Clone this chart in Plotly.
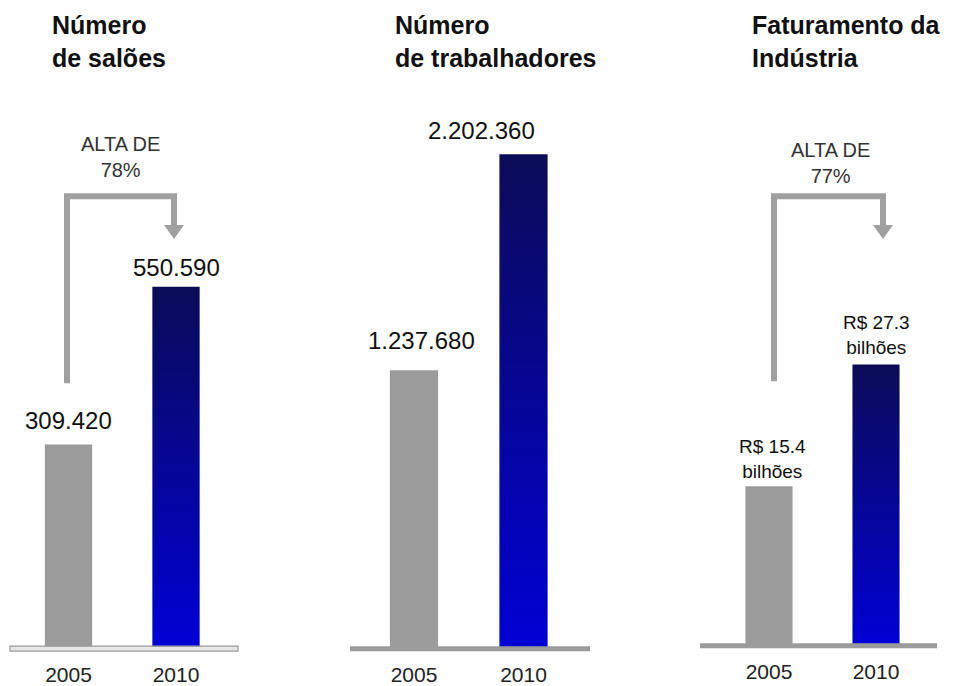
import plotly.graph_objects as go

# ---- data ----
years = ["2005", "2010"]
saloes = [309420, 550590]
trabalhadores = [1237680, 2202360]
faturamento = [15.4, 27.3]
saloes_labels = ["309.420", "550.590"]
trab_labels = ["1.237.680", "2.202.360"]
fat_labels = ["R$ 15.4<br>bilhões", "R$ 27.3<br>bilhões"]
titles = ["Número<br>de salões", "Número<br>de trabalhadores", "Faturamento da<br>Indústria"]
alta_labels = ["ALTA DE<br>78%", None, "ALTA DE<br>77%"]

W, H = 955, 686
def px(x): return x / W
def py(y): return 1 - y / H

GRAY = "#9b9b9b"
ARROW = "#a0a0a0"
FONT = "Liberation Sans, Arial, Helvetica, sans-serif"
BW = 0.44

panels = [
    dict(vals=saloes, labels=saloes_labels, xdom=(14.75, 229.75), ydom=(100, 650), ymax=836530,
         title_x=50, lab_shift=[(0, 9), (0, 4)], lab_size=24),
    dict(vals=trabalhadores, labels=trab_labels, xdom=(359.25, 578.25), ydom=(100, 650), ymax=2447067,
         title_x=393, lab_shift=[(7, 14), (-42, 8)], lab_size=24),
    dict(vals=faturamento, labels=fat_labels, xdom=(715.5, 929.5), ydom=(100, 647), ymax=53.14,
         title_x=750, lab_shift=[(3, 2), (0, 4)], lab_size=19),
]

fig = go.Figure()
annotations = []
shapes = []
layout_axes = {}
xs = [0, 1]

for i, p in enumerate(panels):
    n = "" if i == 0 else str(i + 1)
    xa, ya = "x" + n, "y" + n
    # gray bar (2005)
    fig.add_trace(go.Bar(x=[xs[0]], y=[p["vals"][0]], width=BW, marker=dict(color=GRAY, line=dict(width=0)),
                         xaxis=xa, yaxis=ya, showlegend=False, hoverinfo="skip"))
    # blue gradient bar (2010)
    v = p["vals"][1]
    x0, x1 = xs[1] - BW / 2, xs[1] + BW / 2
    fig.add_trace(go.Scatter(x=[x0, x1, x1, x0, x0], y=[0, 0, v, v, 0], mode="lines", fill="toself",
                             line=dict(width=0, color="rgba(0,0,0,0)"),
                             fillgradient=dict(type="vertical", start=0, stop=v,
                                               colorscale=[[0, "#0000d6"], [0.5, "#060698"], [1, "#0b0b58"]]),
                             xaxis=xa, yaxis=ya, showlegend=False, hoverinfo="skip"))
    layout_axes["xaxis" + n] = dict(domain=[px(p["xdom"][0]), px(p["xdom"][1])], range=[-0.5, 1.5],
                                    anchor=ya, tickmode="array", tickvals=xs, ticktext=years,
                                    showgrid=False, zeroline=False, showline=False, ticks="",
                                    tickfont=dict(family=FONT, size=21, color="#222"),
                                    ticklabelstandoff=13, fixedrange=True)
    layout_axes["yaxis" + n] = dict(domain=[py(p["ydom"][1]), py(p["ydom"][0])], range=[0, p["ymax"]],
                                    anchor=xa, visible=False, fixedrange=True)
    # value labels
    for j in range(2):
        dx, dy = p["lab_shift"][j]
        annotations.append(dict(x=xs[j], y=p["vals"][j], xref=xa, yref=ya, text=p["labels"][j],
                                showarrow=False, xanchor="center", yanchor="bottom", xshift=dx, yshift=dy,
                                font=dict(family=FONT, size=p["lab_size"], color="#111")))
    # titles
    annotations.append(dict(x=px(p["title_x"]), y=py(9), xref="paper", yref="paper", text="<b>" + titles[i] + "</b>",
                            showarrow=False, xanchor="left", yanchor="top", align="left",
                            font=dict(family=FONT, size=25, color="#111")))

# baselines
shapes.append(dict(type="rect", xref="paper", yref="paper", x0=px(10), x1=px(238), y0=py(654), y1=py(649),
                   line=dict(color=GRAY, width=1.2), fillcolor="#e6e6e6"))
shapes.append(dict(type="rect", xref="paper", yref="paper", x0=px(350), x1=px(590), y0=py(654), y1=py(649),
                   line=dict(width=0), fillcolor=GRAY))
shapes.append(dict(type="rect", xref="paper", yref="paper", x0=px(700), x1=px(937), y0=py(651), y1=py(646),
                   line=dict(width=0), fillcolor=GRAY))

# "ALTA DE" arrows
arrows = [dict(xv=67, y_bot=385, y_top=197, xr=174, tip=240, head=226, tx=121, ty=158, label=alta_labels[0]),
          dict(xv=774, y_bot=383, y_top=197, xr=883, tip=240, head=226, tx=830, ty=164, label=alta_labels[2])]
for a in arrows:
    path = "M {} {} L {} {} L {} {} L {} {}".format(
        px(a["xv"]), py(a["y_bot"]), px(a["xv"]), py(a["y_top"]),
        px(a["xr"]), py(a["y_top"]), px(a["xr"]), py(a["head"]))
    shapes.append(dict(type="path", xref="paper", yref="paper", path=path,
                       line=dict(color=ARROW, width=6)))
    tri = "M {} {} L {} {} L {} {} Z".format(px(a["xr"] - 10), py(a["head"]), px(a["xr"] + 10), py(a["head"]),
                                             px(a["xr"]), py(a["tip"]))
    shapes.append(dict(type="path", xref="paper", yref="paper", path=tri, line=dict(width=0), fillcolor=ARROW))
    annotations.append(dict(x=px(a["tx"]), y=py(a["ty"]), xref="paper", yref="paper", text=a["label"],
                            showarrow=False, xanchor="center", yanchor="middle", align="center",
                            font=dict(family=FONT, size=20, color="#333")))

fig.update_layout(width=W, height=H, margin=dict(l=0, r=0, t=0, b=0), paper_bgcolor="white",
                  plot_bgcolor="rgba(0,0,0,0)", barmode="overlay", showlegend=False,
                  annotations=annotations, shapes=shapes, **layout_axes)

fig.write_html("out.html")
